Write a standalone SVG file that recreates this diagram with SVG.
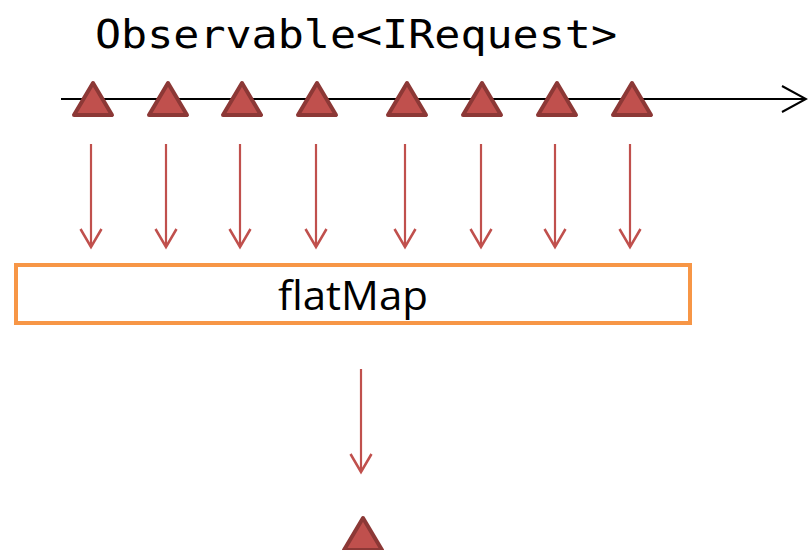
<svg xmlns="http://www.w3.org/2000/svg" width="808" height="550" viewBox="0 0 808 550">
<defs>
<style>
.tri{fill:#C0504D;stroke:#8C3836;stroke-width:4;stroke-linejoin:round}
.arr{stroke:#C0504D;stroke-width:2.2;fill:none}
.box{fill:#fff;stroke:#F79646;stroke-width:4}
</style>
<marker id="ah" markerWidth="24" markerHeight="24" viewBox="0 0 24 24" refX="21" refY="12" orient="auto" markerUnits="userSpaceOnUse">
<path d="M3,1.5 L21,12 L3,22.5" fill="none" stroke="#C0504D" stroke-width="2.5"/>
</marker>
<marker id="bh" markerWidth="30" markerHeight="30" viewBox="0 0 30 30" refX="27" refY="15" orient="auto" markerUnits="userSpaceOnUse">
<path d="M3,2 L27,15 L3,28" fill="none" stroke="#000" stroke-width="2"/>
</marker>
</defs>
<g id="title"><text x="95" y="48" font-family="DejaVu Sans Mono, monospace" font-size="39" textLength="522" lengthAdjust="spacingAndGlyphs">Observable&lt;IRequest&gt;</text></g>
<g id="timeline"><line x1="61" y1="99" x2="806" y2="99" stroke="#000" stroke-width="2" marker-end="url(#bh)"/></g>
<g id="items">
<polygon class="tri" points="93,83 112,115 74,115"/>
<polygon class="tri" points="168,83 187,115 149,115"/>
<polygon class="tri" points="242,83 261,115 223,115"/>
<polygon class="tri" points="317,83 336,115 298,115"/>
<polygon class="tri" points="407,83 426,115 388,115"/>
<polygon class="tri" points="482,83 501,115 463,115"/>
<polygon class="tri" points="557,83 576,115 538,115"/>
<polygon class="tri" points="632,83 651,115 613,115"/>
</g>
<g id="connectors">
<line class="arr" x1="91" y1="144" x2="91" y2="247" marker-end="url(#ah)"/>
<line class="arr" x1="166" y1="144" x2="166" y2="247" marker-end="url(#ah)"/>
<line class="arr" x1="240" y1="144" x2="240" y2="247" marker-end="url(#ah)"/>
<line class="arr" x1="316" y1="144" x2="316" y2="247" marker-end="url(#ah)"/>
<line class="arr" x1="405" y1="144" x2="405" y2="247" marker-end="url(#ah)"/>
<line class="arr" x1="481" y1="144" x2="481" y2="247" marker-end="url(#ah)"/>
<line class="arr" x1="555" y1="144" x2="555" y2="247" marker-end="url(#ah)"/>
<line class="arr" x1="630" y1="144" x2="630" y2="247" marker-end="url(#ah)"/>
<line class="arr" x1="361" y1="369" x2="361" y2="472" marker-end="url(#ah)"/>
</g>
<g id="flatMap">
<rect class="box" x="16" y="265" width="674" height="58"/>
<text x="353" y="310" text-anchor="middle" font-family="Open Sans, Liberation Sans, sans-serif" font-size="40" textLength="150" lengthAdjust="spacingAndGlyphs">flatMap</text>
</g>
<g id="result"><polygon class="tri" points="363,518 382,550 344,550"/></g>
</svg>
